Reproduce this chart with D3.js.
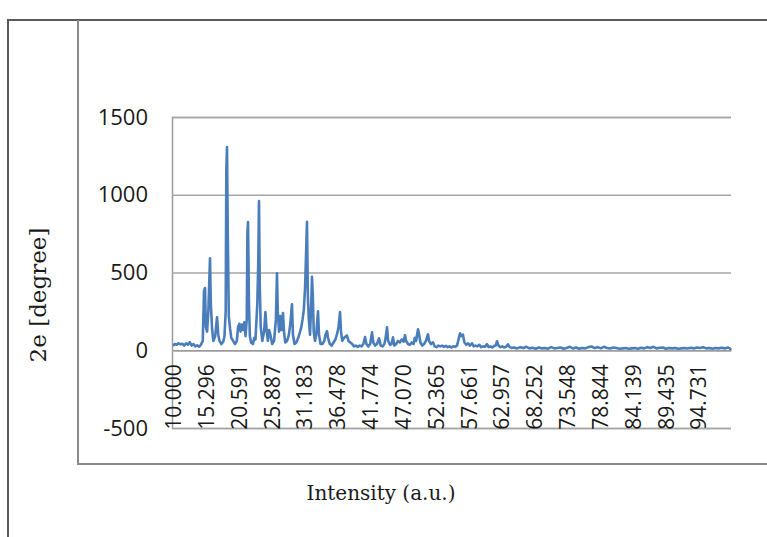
<!DOCTYPE html>
<html>
<head>
<meta charset="utf-8">
<script src="https://cdn.jsdelivr.net/npm/d3@7"></script>
<style>
  body { margin: 0; background: #fff; }
  svg { display: block; }
</style>
</head>
<body>
<div class="chart"></div>
<script>
// values, x = 2theta position, y = counts
const twoTheta = [
  10.0, 10.3, 10.6, 10.9, 11.2, 11.5, 11.8, 12.1, 12.4, 12.7, 13.0, 13.3, 13.6, 13.9, 14.2, 14.5, 14.8,
  15.0, 15.16, 15.3, 15.5, 15.7, 15.97, 16.1, 16.3, 16.5, 16.8, 17.1, 17.3, 17.5, 17.8, 18.1, 18.3, 18.5,
  18.6, 18.71, 18.85, 19.0, 19.2, 19.4, 19.7, 20.0, 20.3, 20.5, 20.7, 20.9, 21.1, 21.3, 21.5, 21.7, 21.9,
  22.0, 22.1, 22.25, 22.4, 22.6, 22.9, 23.1, 23.3, 23.6, 23.75, 23.87, 24.0, 24.15, 24.4, 24.7, 24.9,
  25.1, 25.3, 25.5, 25.7, 26.0, 26.3, 26.6, 26.77, 26.9, 27.1, 27.3, 27.5, 27.74, 27.9, 28.1, 28.4, 28.7,
  28.95, 29.19, 29.35, 29.6, 29.9, 30.2, 30.5, 30.7, 30.9, 31.1, 31.3, 31.45, 31.61, 31.75, 31.9, 32.1,
  32.3, 32.42, 32.55, 32.7, 32.9, 33.1, 33.25, 33.39, 33.55, 33.8, 34.1, 34.4, 34.6, 34.84, 35.0, 35.3,
  35.6, 35.9, 36.2, 36.5, 36.7, 36.94, 37.1, 37.3, 37.6, 38.06, 38.3, 38.6, 38.9, 39.2, 39.5, 39.8, 40.1,
  40.4, 40.7, 40.97, 41.2, 41.5, 41.8, 42.1, 42.3, 42.6, 42.9, 43.23, 43.5, 43.8, 44.1, 44.3, 44.52, 44.7,
  45.0, 45.25, 45.48, 45.7, 46.0, 46.3, 46.6, 46.9, 47.2, 47.42, 47.6, 47.9, 48.2, 48.5, 48.8, 49.0, 49.2,
  49.52, 49.7, 49.9, 50.2, 50.5, 50.8, 51.13, 51.3, 51.6, 51.94, 52.2, 52.5, 52.8, 53.1, 53.4, 53.7, 54.0,
  54.3, 54.6, 54.9, 55.2, 55.5, 55.8, 56.0, 56.29, 56.5, 56.77, 57.0, 57.3, 57.6, 57.9, 58.23, 58.5, 58.8,
  59.1, 59.4, 59.7, 60.0, 60.3, 60.65, 60.9, 61.2, 61.5, 61.8, 62.05, 62.26, 62.5, 62.8, 63.1, 63.4, 63.7,
  64.03, 64.3, 64.6, 65.0, 65.5, 66.0, 66.5, 67.0, 67.5, 68.0, 68.5, 69.0, 69.5, 70.0, 70.5, 71.0, 71.5,
  72.0, 72.5, 73.0, 73.5, 74.0, 74.5, 75.0, 75.5, 76.0, 76.5, 77.0, 77.5, 78.0, 78.5, 79.0, 79.5, 80.0,
  80.5, 81.0, 81.5, 82.0, 82.5, 83.0, 83.5, 84.0, 84.5, 85.0, 85.5, 86.0, 86.5, 87.0, 87.5, 88.0, 88.5,
  89.0, 89.5, 90.0, 90.5, 91.0, 91.5, 92.0, 92.5, 93.0, 93.5, 94.0, 94.5, 95.0, 95.5, 96.0, 96.5, 97.0,
  97.5, 98.0, 98.5, 99.0, 99.5, 99.8, 100.0
];

const intensity = [
  28, 40, 35, 45, 38, 42, 30, 44, 36, 52, 30, 40, 25, 32, 22, 35, 60,
  380, 400, 150, 120, 250, 592, 300, 140, 60, 90, 212, 100, 60, 40, 55, 90, 250,
  1150, 1306, 700, 220, 140, 80, 60, 40, 60, 150, 170, 120, 165, 130, 180, 90, 200,
  752, 824, 300, 90, 50, 40, 80, 70, 300, 560, 959, 400, 150, 60, 120, 245,
  130, 60, 130, 100, 40, 60, 200, 495, 250, 120, 220, 130, 240, 120, 50, 60, 100,
  180, 296, 100, 40, 50, 80, 120, 150, 200, 260, 400, 600, 826, 350, 200, 100,
  300, 472, 350, 120, 60, 100, 180, 250, 100, 40, 40, 60, 100, 123, 80, 40,
  30, 50, 70, 110, 150, 245, 120, 60, 80, 95, 60, 50, 40, 25, 30, 22, 30,
  25, 40, 85, 40, 25, 40, 115, 50, 30, 40, 77, 30, 25, 40, 80, 148, 60,
  35, 40, 83, 30, 40, 60, 50, 70, 55, 97, 60, 40, 35, 50, 40, 80, 60,
  135, 100, 50, 30, 40, 60, 103, 60, 40, 51, 25, 20, 30, 25, 30, 22, 28,
  20, 25, 18, 25, 22, 30, 60, 109, 90, 100, 50, 35, 45, 30, 45, 25, 30,
  25, 35, 20, 25, 22, 39, 20, 25, 18, 28, 30, 58, 30, 20, 25, 18, 22,
  38, 20, 15, 18, 12, 20, 14, 22, 12, 16, 10, 18, 12, 15, 10, 20, 12,
  14, 18, 10, 15, 22, 12, 18, 10, 14, 12, 20, 24, 14, 20, 12, 22, 15,
  12, 18, 14, 10, 12, 15, 10, 12, 14, 10, 16, 12, 20, 14, 22, 12, 16,
  18, 10, 14, 12, 15, 10, 12, 14, 11, 16, 12, 18, 14, 20, 12, 15, 10,
  14, 12, 16, 12, 18, 12, 2
];

const xTicks = [10.000, 15.296, 20.591, 25.887, 31.183, 36.478, 41.774, 47.070, 52.365,
  57.661, 62.957, 68.252, 73.548, 78.844, 84.139, 89.435, 94.731];
const xTickLabels = ['10.000', '15.296', '20.591', '25.887', '31.183', '36.478', '41.774', '47.070', '52.365',
  '57.661', '62.957', '68.252', '73.548', '78.844', '84.139', '89.435', '94.731'];
const yTicks = [-500, 0, 500, 1000, 1500];

const W = 767;
const H = 537;
const plot = { left: 173, right: 731, top: 117, bottom: 428 };

const svg = d3.select('.chart')
  .append('svg')
  .attr('width', W)
  .attr('height', H);

// frame lines round the picture
svg.append('path')
  .attr('d', `M8,${H} V20 H${W}`)
  .attr('fill', 'none')
  .attr('stroke', '#5a5a5a')
  .attr('stroke-width', 2);

svg.append('path')
  .attr('d', `M78,20 V464 H${W}`)
  .attr('fill', 'none')
  .attr('stroke', '#8a8a8a')
  .attr('stroke-width', 2);

const xScale = d3.scaleLinear()
  .domain([10, 100])
  .range([plot.left, plot.right]);

const yScale = d3.scaleLinear()
  .domain([-500, 1500])
  .range([plot.bottom, plot.top]);

// y axis with gridlines
const yAxis = svg.append('g')
  .attr('transform', `translate(${plot.left - 1}, 0)`)
  .call(d3.axisLeft(yScale)
    .tickValues(yTicks)
    .tickFormat(d => String(d))
    .tickSize(-(plot.right - plot.left + 1))
    .tickPadding(24));

yAxis.select('.domain')
  .attr('stroke', '#9a9a9a')
  .attr('stroke-width', 1.5);

yAxis.selectAll('.tick line')
  .attr('stroke', '#a6a6a6')
  .attr('stroke-width', 1.5);

yAxis.selectAll('.tick text')
  .style('font-family', '"Open Sans", sans-serif')
  .style('font-size', '22px')
  .attr('fill', '#1a1a1a');

// x axis sits at zero, labels turned on their side
const xAxis = svg.append('g')
  .attr('transform', `translate(0, ${yScale(0)})`)
  .call(d3.axisBottom(xScale)
    .tickValues(xTicks)
    .tickFormat((d, i) => xTickLabels[i])
    .tickSize(0));

xAxis.select('.domain')
  .attr('stroke', '#9a9a9a')
  .attr('stroke-width', 1.5);

xAxis.selectAll('.tick text')
  .attr('transform', 'rotate(-90)')
  .attr('x', -14)
  .attr('y', 0)
  .attr('dy', '0.36em')
  .style('text-anchor', 'end')
  .style('font-family', '"Open Sans", sans-serif')
  .style('font-size', '21px')
  .attr('fill', '#1a1a1a');

// the scan
const line = d3.line()
  .x(d => xScale(d[0]))
  .y(d => yScale(d[1]));

svg.append('path')
  .datum(twoTheta.map((t, i) => [t, intensity[i]]))
  .attr('d', line)
  .attr('fill', 'none')
  .attr('stroke', '#4a7ebb')
  .attr('stroke-width', 2.6)
  .attr('stroke-linejoin', 'round');

// axis titles
svg.append('text')
  .attr('transform', 'translate(38, 295) rotate(-90)')
  .attr('text-anchor', 'middle')
  .attr('dy', '0.35em')
  .style('font-family', '"DejaVu Serif", serif')
  .style('font-size', '23px')
  .attr('fill', '#1a1a1a')
  .text('2e [degree]');

svg.append('text')
  .attr('x', 381)
  .attr('y', 500)
  .attr('text-anchor', 'middle')
  .style('font-family', '"DejaVu Serif", serif')
  .style('font-size', '20px')
  .attr('fill', '#1a1a1a')
  .text('Intensity (a.u.)');
</script>
</body>
</html>
